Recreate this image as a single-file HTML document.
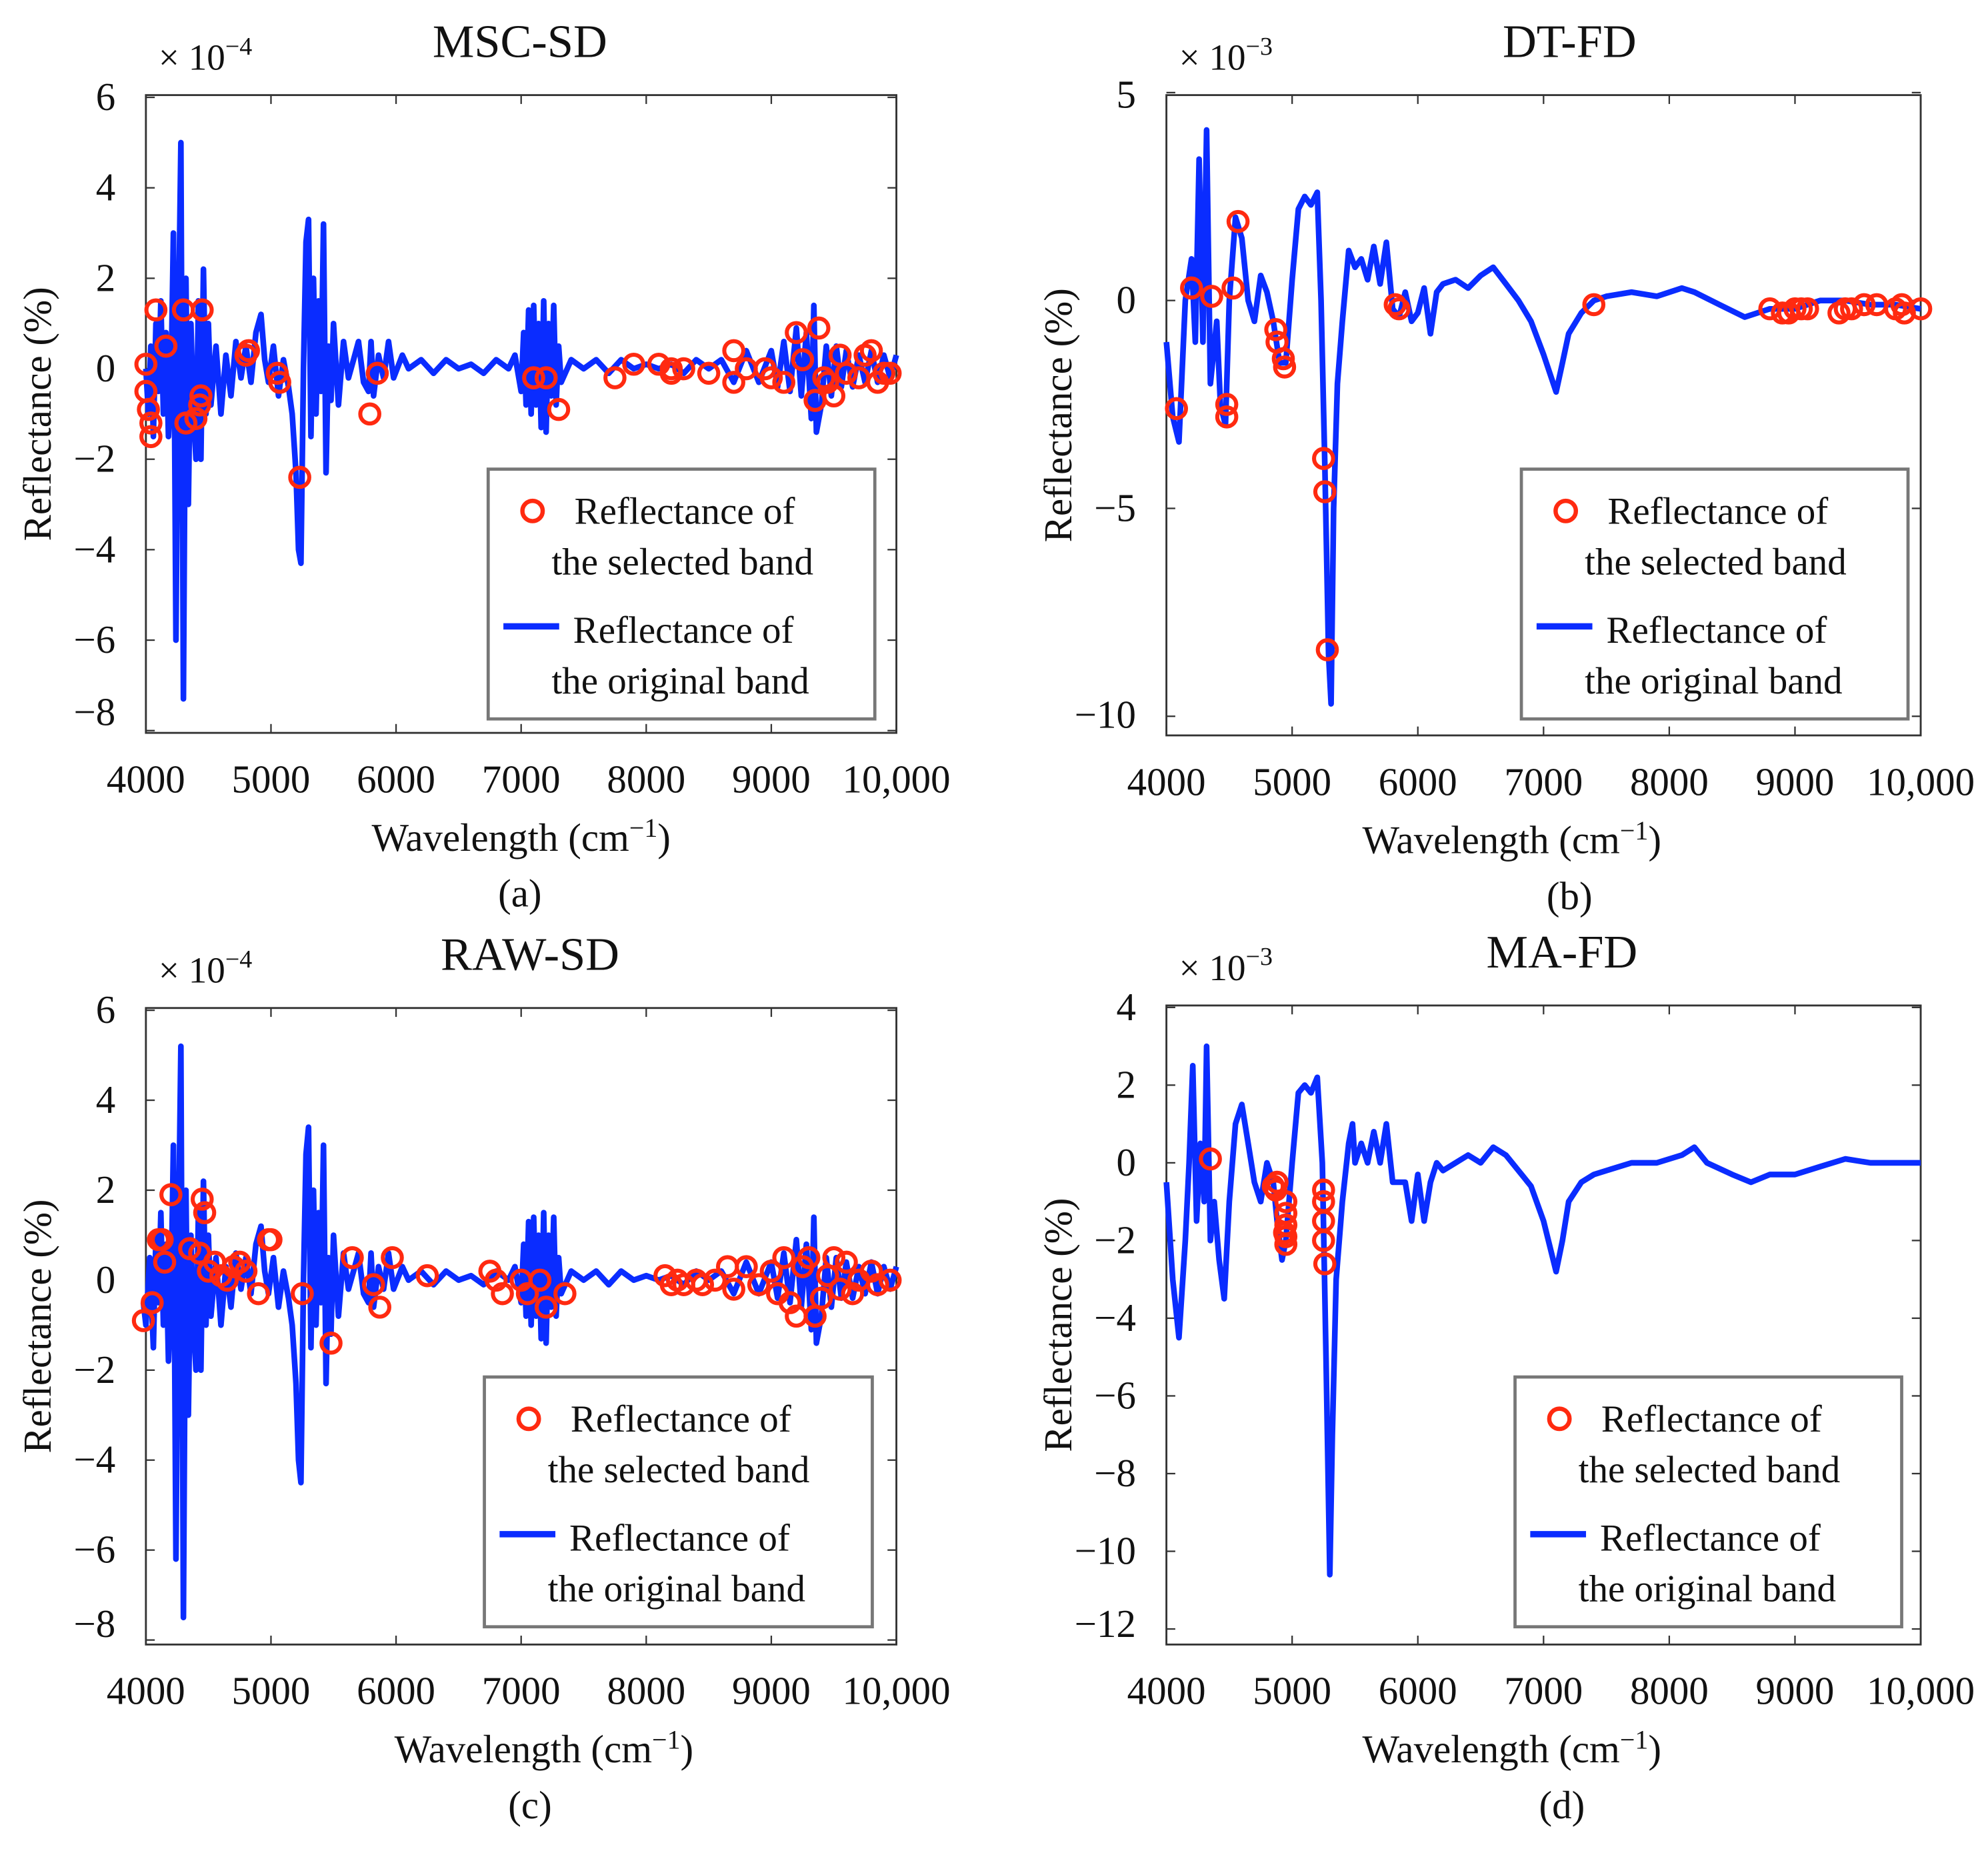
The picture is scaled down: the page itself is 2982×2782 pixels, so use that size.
<!DOCTYPE html>
<html><head><meta charset="utf-8"><style>
html,body{margin:0;padding:0;background:#fff;}
svg{display:block;}
text{font-family:"Liberation Serif",serif;fill:#111;}
</style></head><body>
<svg id="fig" width="2982" height="2782" viewBox="0 0 1568 1463" xmlns="http://www.w3.org/2000/svg" font-family="Liberation Serif, serif">
<rect x="0" y="0" width="1568" height="1463" fill="#fff"/>
</svg>
<script>
// ---- data (x in cm^-1, y in scaled units) ----
const xTicks = [4000,5000,6000,7000,8000,9000,10000];
const xTickLabels = ["4000","5000","6000","7000","8000","9000","10,000"];
const yTicksA = [6,4,2,0,-2,-4,-6,-8];
const yTicksB = [5,0,-5,-10];
const yTicksC = [6,4,2,0,-2,-4,-6,-8];
const yTicksD = [4,2,0,-2,-4,-6,-8,-10,-12];
const titles = ["MSC-SD","DT-FD","RAW-SD","MA-FD"];
const exponents = ["−4","−3","−4","−3"];
const captions = ["(a)","(b)","(c)","(d)"];

const lineA = [[4000,0],[4020,-1],[4040,0.5],[4060,-1.5],[4080,1],[4100,-0.5],[4120,1.5],[4140,-1],[4160,0.8],[4180,-1.5],[4200,-0.5],[4220,3],[4240,-6],[4260,1],[4280,5],[4300,-7.3],[4320,2],[4340,-3],[4360,1],[4380,-1],[4400,-2],[4420,1.5],[4440,-2],[4460,2.2],[4480,-1],[4500,1],[4520,-0.8],[4560,0.5],[4600,-1],[4640,0.3],[4680,-0.6],[4720,0.6],[4760,-0.2],[4800,0.5],[4840,-0.3],[4880,0.8],[4920,1.2],[4950,0.2],[4980,-0.3],[5020,0.5],[5060,-0.6],[5100,0.2],[5140,-0.4],[5170,-1],[5200,-2.3],[5220,-4],[5240,-4.3],[5260,0],[5280,2.8],[5300,3.3],[5320,-1.5],[5340,2],[5360,-1],[5380,1.5],[5400,-0.5],[5420,3.2],[5440,-2.3],[5460,0.5],[5480,-0.7],[5500,1],[5540,-0.8],[5580,0.6],[5620,-0.2],[5660,0.2],[5700,0.6],[5740,-0.3],[5780,-0.5],[5800,0.6],[5820,-0.6],[5860,0.3],[5900,-0.2],[5940,0.6],[5980,-0.2],[6050,0.3],[6100,0],[6200,0.2],[6300,-0.1],[6400,0.2],[6500,0],[6600,0.1],[6700,-0.1],[6800,0.2],[6900,0],[6950,0.3],[7000,-0.5],[7020,0.8],[7040,-0.8],[7060,1.3],[7080,-1],[7100,1.4],[7120,-0.8],[7140,1],[7160,-1.3],[7180,1.5],[7200,-1.4],[7220,1],[7240,-0.6],[7260,1.4],[7280,-0.8],[7300,0.5],[7320,-0.3],[7400,0.2],[7500,0],[7600,0.2],[7700,-0.1],[7800,0.2],[7900,0],[8000,0.1],[8100,0],[8200,0.1],[8300,-0.1],[8400,0.2],[8500,0],[8600,0.2],[8700,-0.3],[8800,0.4],[8900,-0.3],[9000,0.4],[9050,-0.4],[9100,0.6],[9150,-0.5],[9200,0.9],[9240,-0.6],[9280,0.8],[9320,-1.1],[9340,1.4],[9360,-1.4],[9400,-0.8],[9440,0.5],[9480,-0.6],[9520,0.5],[9560,-0.4],[9600,0.4],[9650,-0.4],[9700,0.3],[9750,-0.3],[9800,0.4],[9850,-0.3],[9900,0.3],[9950,-0.2],[10000,0.3]];
const dotsA = [[4000,0.1],[4000,-0.5],[4020,-0.9],[4040,-1.2],[4040,-1.5],[4080,1.3],[4160,0.5],[4300,1.3],[4320,-1.2],[4400,-1.1],[4430,-0.8],[4440,-0.6],[4450,1.3],[4800,0.3],[4820,0.4],[5050,-0.1],[5070,-0.3],[5230,-2.4],[5790,-1.0],[5850,-0.1],[7100,-0.2],[7200,-0.2],[7300,-0.9],[7750,-0.2],[7900,0.1],[8100,0.1],[8200,0],[8200,-0.1],[8300,0],[8500,-0.1],[8700,0.4],[8700,-0.3],[8800,0],[8950,0],[9000,-0.2],[9100,-0.3],[9200,0.8],[9250,0.2],[9350,-0.7],[9380,0.9],[9420,-0.2],[9450,-0.3],[9500,-0.6],[9550,0.3],[9600,-0.1],[9700,-0.2],[9750,0.3],[9800,0.4],[9850,-0.3],[9900,-0.1],[9950,-0.1]];

const lineB = [[4000,-1],[4050,-2.8],[4100,-3.4],[4150,0],[4200,1],[4230,-1],[4260,3.4],[4290,-1],[4320,4.1],[4350,-2],[4400,-0.5],[4430,-2.5],[4470,-3],[4500,0],[4550,2],[4600,1.5],[4650,0],[4700,-0.5],[4750,0.6],[4800,0.2],[4850,-0.5],[4900,-1.5],[4950,-1.5],[5000,0.5],[5050,2.2],[5100,2.5],[5150,2.3],[5200,2.6],[5230,0],[5260,-4],[5290,-8.5],[5310,-9.7],[5330,-5],[5360,-2],[5400,-0.5],[5450,1.2],[5500,0.8],[5550,1],[5600,0.5],[5650,1.3],[5700,0.4],[5750,1.4],[5800,-0.2],[5850,-0.4],[5900,0.2],[5950,-0.5],[6000,-0.3],[6050,0.3],[6100,-0.8],[6150,0.2],[6200,0.4],[6300,0.5],[6400,0.3],[6500,0.6],[6600,0.8],[6700,0.4],[6800,0],[6900,-0.5],[7000,-1.3],[7100,-2.2],[7150,-1.5],[7200,-0.8],[7300,-0.3],[7400,0],[7500,0.1],[7700,0.2],[7900,0.1],[8100,0.3],[8200,0.2],[8400,-0.1],[8600,-0.4],[8800,-0.2],[9000,-0.2],[9200,0],[9400,0],[9600,-0.1],[9800,-0.1],[10000,-0.2]];
const dotsB = [[4080,-2.6],[4200,0.3],[4360,0.1],[4480,-2.5],[4480,-2.8],[4530,0.3],[4570,1.9],[4870,-0.7],[4880,-1],[4930,-1.4],[4940,-1.6],[5250,-3.8],[5260,-4.6],[5280,-8.4],[5820,-0.1],[5850,-0.2],[7400,-0.1],[8800,-0.2],[8900,-0.3],[8950,-0.3],[9000,-0.2],[9050,-0.2],[9100,-0.2],[9350,-0.3],[9400,-0.2],[9450,-0.2],[9550,-0.1],[9650,-0.1],[9800,-0.2],[9850,-0.1],[9870,-0.3],[10000,-0.2]];

const lineC = [[3980,-0.5],[4000,-1],[4030,0.5],[4060,-1.5],[4080,1],[4100,-0.5],[4120,1.5],[4140,-1],[4160,0.8],[4180,-1.8],[4200,-0.5],[4220,3],[4240,-6.2],[4260,1],[4280,5.2],[4300,-7.5],[4320,2],[4340,-3],[4360,1],[4380,-1],[4400,-2],[4420,1.5],[4440,-2],[4460,2.2],[4480,-1],[4500,1],[4520,-0.8],[4560,0.5],[4600,-1],[4640,0.3],[4680,-0.6],[4720,0.6],[4760,-0.2],[4800,0.5],[4840,-0.3],[4880,0.8],[4920,1.2],[4950,0.2],[4980,-0.3],[5020,0.5],[5060,-0.6],[5100,0.2],[5140,-0.4],[5170,-1],[5200,-2.3],[5220,-4],[5240,-4.5],[5260,0],[5280,2.8],[5300,3.4],[5320,-1.5],[5340,2],[5360,-1],[5380,1.5],[5400,-0.5],[5420,3],[5440,-2.3],[5460,0.5],[5480,-1.2],[5500,1],[5540,-0.8],[5580,0.6],[5620,-0.2],[5660,0.2],[5700,0.6],[5740,-0.3],[5780,-0.5],[5800,0.6],[5820,-0.6],[5860,0.3],[5900,-0.2],[5940,0.6],[5980,-0.2],[6050,0.3],[6100,0],[6200,0.2],[6300,-0.1],[6400,0.2],[6500,0],[6600,0.1],[6700,-0.1],[6800,0.2],[6900,0],[6950,0.3],[7000,-0.5],[7020,0.8],[7040,-0.8],[7060,1.3],[7080,-1],[7100,1.4],[7120,-0.8],[7140,1],[7160,-1.3],[7180,1.5],[7200,-1.4],[7220,1],[7240,-0.6],[7260,1.4],[7280,-0.8],[7300,0.5],[7320,-0.3],[7400,0.2],[7500,0],[7600,0.2],[7700,-0.1],[7800,0.2],[7900,0],[8000,0.1],[8100,0],[8200,0.1],[8300,-0.1],[8400,0.2],[8500,0],[8600,0.2],[8700,-0.3],[8800,0.4],[8900,-0.3],[9000,0.4],[9050,-0.4],[9100,0.6],[9150,-0.5],[9200,0.9],[9240,-0.6],[9280,0.8],[9320,-1.1],[9340,1.4],[9360,-1.4],[9400,-0.8],[9440,0.5],[9480,-0.6],[9520,0.5],[9560,-0.4],[9600,0.4],[9650,-0.4],[9700,0.3],[9750,-0.3],[9800,0.4],[9850,-0.3],[9900,0.3],[9950,-0.2],[10000,0.3]];
const dotsC = [[3980,-0.9],[4050,-0.5],[4100,0.9],[4130,0.9],[4150,0.4],[4200,1.9],[4350,0.7],[4450,1.8],[4470,1.5],[4430,0.6],[4500,0.2],[4550,0.4],[4600,0.1],[4650,0],[4700,0.3],[4750,0.4],[4800,0.2],[4900,-0.3],[4980,0.9],[5000,0.9],[5250,-0.3],[5480,-1.4],[5650,0.5],[5820,-0.1],[5870,-0.6],[5970,0.5],[6250,0.1],[6750,0.2],[6800,0],[6850,-0.3],[7000,0],[7050,-0.3],[7150,0],[7200,-0.6],[7350,-0.3],[8150,0.1],[8200,-0.1],[8250,0],[8300,-0.1],[8400,0],[8450,-0.1],[8550,0],[8650,0.3],[8700,-0.2],[8800,0.3],[8900,-0.1],[9000,0.2],[9050,-0.3],[9100,0.5],[9150,-0.5],[9200,-0.8],[9250,0.3],[9300,0.5],[9350,-0.8],[9400,-0.4],[9450,0.1],[9500,0.5],[9550,-0.2],[9600,0.4],[9650,-0.3],[9700,0],[9800,0.2],[9850,-0.1],[9950,0]];

const lineD = [[4000,-0.5],[4050,-3],[4100,-4.5],[4150,-2],[4180,0],[4210,2.5],[4240,-1.5],[4270,0.5],[4300,-1],[4320,3],[4350,-2],[4380,-1],[4420,-2.5],[4460,-3.5],[4500,-1],[4550,1],[4600,1.5],[4650,0.5],[4700,-0.5],[4750,-1],[4800,0],[4850,-0.5],[4880,-1.5],[4920,-2.5],[4950,-2],[5000,0],[5050,1.8],[5100,2],[5150,1.8],[5200,2.2],[5240,0],[5270,-5],[5300,-10.6],[5320,-7],[5350,-3],[5400,-1],[5450,0.5],[5480,1],[5500,0],[5550,0.5],[5600,0],[5650,0.8],[5700,0],[5750,1],[5800,-0.5],[5850,-0.5],[5900,-0.5],[5950,-1.5],[6000,-0.3],[6050,-1.5],[6100,-0.5],[6150,0],[6200,-0.2],[6300,0],[6400,0.2],[6500,0],[6600,0.4],[6700,0.2],[6800,-0.2],[6900,-0.6],[7000,-1.5],[7100,-2.8],[7150,-2],[7200,-1],[7300,-0.5],[7400,-0.3],[7500,-0.2],[7700,0],[7900,0],[8100,0.2],[8200,0.4],[8300,0],[8500,-0.3],[8650,-0.5],[8800,-0.3],[9000,-0.3],[9200,-0.1],[9400,0.1],[9600,0],[9800,0],[10000,0]];
const dotsD = [[4350,0.1],[4850,-0.6],[4870,-0.7],[4880,-0.5],[4950,-1],[4950,-1.3],[4950,-1.6],[4950,-1.9],[4950,-2.1],[4940,-1.8],[5250,-0.7],[5250,-1],[5250,-1.5],[5250,-2],[5260,-2.6]];

// ---- layout ----
const NS = "http://www.w3.org/2000/svg";
const svg = document.getElementById('fig');
function mk(tag, attrs, parent){const e=document.createElementNS(NS,tag);for(const k in attrs)e.setAttribute(k,attrs[k]);(parent||svg).appendChild(e);return e;}

const panels = [
 {x0:115,x1:707,y0:75,y1:578,ymax:6.05,ymin:-8.05,yt:yTicksA,line:lineA,dots:dotsA,leg:[385,370,305,197],cx:410},
 {x0:920,x1:1515,y0:75,y1:580,ymax:4.94,ymin:-10.46,yt:yTicksB,line:lineB,dots:dotsB,leg:[1200,370,305,197],cx:1238},
 {x0:115,x1:707,y0:795,y1:1297,ymax:6.05,ymin:-8.1,yt:yTicksC,line:lineC,dots:dotsC,leg:[382,1086,306,197],cx:418},
 {x0:920,x1:1515,y0:793,y1:1297,ymax:4.05,ymin:-12.4,yt:yTicksD,line:lineD,dots:dotsD,leg:[1195,1086,305,197],cx:1232}
];

panels.forEach((p,i)=>{
  const g = mk('g',{});
  
  
  const X = v => p.x0 + (v-4000)/6000*(p.x1-p.x0);
  const Y = v => p.y0 + (p.ymax-v)/(p.ymax-p.ymin)*(p.y1-p.y0);
  const frame = mk('rect',{x:p.x0,y:p.y0,width:p.x1-p.x0,height:p.y1-p.y0,fill:'none',stroke:'#333','stroke-width':1.5},g);
  
  
  xTicks.forEach((t,j)=>{
    const x=X(t);
    mk('line',{x1:x,y1:p.y1,x2:x,y2:p.y1-7,stroke:'#333','stroke-width':1.2},g);
    mk('line',{x1:x,y1:p.y0,x2:x,y2:p.y0+7,stroke:'#333','stroke-width':1.2},g);
    const tl=mk('text',{x:x,y:p.y1+47,'font-size':31,'text-anchor':'middle'},g);
    tl.textContent=xTickLabels[j];
    
    
  });
  p.yt.forEach(t=>{
    const y=Y(t);
    mk('line',{x1:p.x0,y1:y,x2:p.x0+7,y2:y,stroke:'#333','stroke-width':1.2},g);
    mk('line',{x1:p.x1,y1:y,x2:p.x1-7,y2:y,stroke:'#333','stroke-width':1.2},g);
    let ty = Math.min(Math.max(y+10,p.y0+10),p.y1-6);
    const tl=mk('text',{x:p.x0-24,y:ty,'font-size':31,'text-anchor':'end'},g);
    tl.textContent=(t<0?'−'+(-t):''+t);
    
    
  });
  const d = p.line.map((pt,k)=>(k?'L':'M')+X(pt[0]).toFixed(1)+' '+Y(pt[1]).toFixed(1)).join(' ');
  const path = mk('path',{d:d,fill:'none',stroke:'#0a2cff','stroke-width':4.5,'stroke-linejoin':'round'},g);
  
  
  p.dots.forEach(pt=>{
    const c=mk('circle',{cx:X(pt[0]),cy:Y(pt[1]),r:7.5,fill:'none',stroke:'#ff2a10','stroke-width':3.2},g);
    
    
  });
  const tt=mk('text',{x:p.cx,y:p.y0-30,'font-size':37,'text-anchor':'middle'},g);
  tt.textContent=titles[i];
  
  
  const ex=mk('text',{x:p.x0+10,y:p.y0-20,'font-size':29},g);
  
  
  ex.innerHTML='× 10<tspan dy="-12" font-size="20">'+exponents[i]+'</tspan>';
  const xl=mk('text',{x:(p.x0+p.x1)/2-(i%2?25:0)+(i==2?18:0),y:p.y1+93,'font-size':31,'text-anchor':'middle'},g);
  
  
  xl.innerHTML='Wavelength  (cm<tspan dy="-11" font-size="21">−1</tspan><tspan dy="11">)</tspan>';
  const yl=mk('text',{x:0,y:0,'font-size':31,'text-anchor':'middle',transform:'translate('+(p.x0-75)+','+((p.y0+p.y1)/2)+') rotate(-90)'},g);
  yl.textContent='Reflectance (%)';
  
  
  const cap=mk('text',{x:p.cx,y:p.y1+137,'font-size':31,'text-anchor':'middle'},g);
  cap.textContent=captions[i];
  
  
  const [lx,ly,lw,lh]=p.leg;
  const lg=mk('g',{},g);
  
  
  mk('rect',{x:lx,y:ly,width:lw,height:lh,fill:'#fff',stroke:'#777','stroke-width':2.5},lg);
  const lc=mk('circle',{cx:lx+35,cy:ly+33,r:8,fill:'none',stroke:'#ff2a10','stroke-width':3.4},lg);
  
  
  const t1=mk('text',{x:lx+68,y:ly+43,'font-size':30},lg); t1.textContent='Reflectance of';
  const t2=mk('text',{x:lx+50,y:ly+83,'font-size':30},lg); t2.textContent='the selected band';
  const ll=mk('line',{x1:lx+12,y1:ly+124,x2:lx+56,y2:ly+124,stroke:'#0a2cff','stroke-width':5},lg);
  
  
  const t3=mk('text',{x:lx+67,y:ly+137,'font-size':30},lg); t3.textContent='Reflectance of';
  const t4=mk('text',{x:lx+50,y:ly+177,'font-size':30},lg); t4.textContent='the original band';
});
</script>
</body></html>
